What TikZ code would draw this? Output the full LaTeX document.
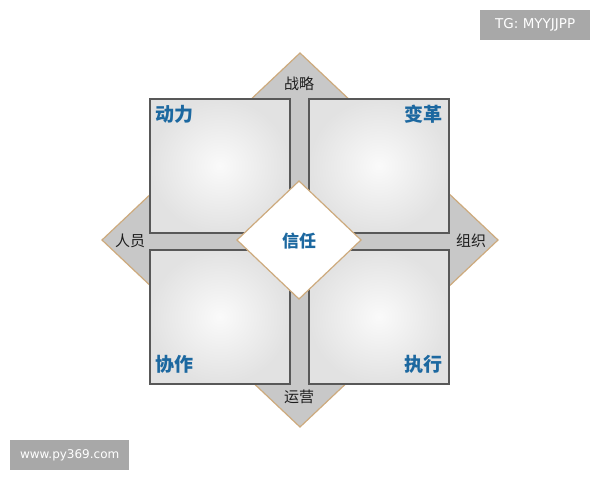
\documentclass[tikz,border=0pt]{standalone}
\usepackage{fontspec}
\setmainfont{DejaVu Sans}
\newfontfamily\cjk{Noto Sans CJK SC}
\definecolor{tanline}{RGB}{205,170,125}
\definecolor{diagray}{RGB}{200,200,200}
\definecolor{sqborder}{RGB}{88,88,88}
\definecolor{sqinner}{RGB}{250,250,250}
\definecolor{sqouter}{RGB}{226,226,226}
\definecolor{lblue}{RGB}{28,104,160}
\definecolor{ltext}{RGB}{30,30,30}
\definecolor{wmgray}{RGB}{168,168,168}
\tikzset{
  quad/.style={draw=sqborder, line width=1.6pt, inner color=sqinner, outer color=sqouter,
    minimum width=140pt, minimum height=134pt, inner sep=0pt, anchor=north west},
  quadlabel/.style={text=lblue, font=\cjk\bfseries\fontsize{19}{19}\selectfont, inner sep=0pt},
  sidelabel/.style={text=ltext, font=\cjk\fontsize{15}{15}\selectfont, inner sep=0pt},
  diaedge/.style={draw=tanline, line width=1.2pt, line join=miter},
  wm/.style={fill=wmgray, text=white, inner sep=0pt, anchor=north west}
}
\begin{document}
\begin{tikzpicture}[x=1pt,y=-1pt]
\useasboundingbox (0,0) rectangle (600,480);
\fill[white] (0,0) rectangle (600,480);
% outer diamond
\coordinate (dn) at (300,53);
\coordinate (de) at (498,240);
\coordinate (ds) at (300,427);
\coordinate (dw) at (102,240);
\fill[diagray] (dn) -- (de) -- (ds) -- (dw) -- cycle;
\draw[diaedge] (dn) -- (de) -- (ds) -- (dw) -- cycle;
% four quadrants
\node[quad] (q1) at (149,98) {};
\node[quad] (q2) at (308,98) {};
\node[quad] (q3) at (149,249) {};
\node[quad] (q4) at (308,249) {};
% quadrant labels
\node[quadlabel] (t1) at (174,114) {动力};
\node[quadlabel] (t2) at (423,114) {变革};
\node[quadlabel] (t3) at (174,364) {协作};
\node[quadlabel] (t4) at (423,364) {执行};
% side labels
\node[sidelabel] (s1) at (299,84) {战略};
\node[sidelabel] (s2) at (299,397) {运营};
\node[sidelabel] (s3) at (130,241) {人员};
\node[sidelabel] (s4) at (471,241) {组织};
% center diamond
\coordinate (cn) at (299,181);
\coordinate (ce) at (361,240);
\coordinate (cs) at (299,299);
\coordinate (cw) at (237,240);
\fill[white] (cn) -- (ce) -- (cs) -- (cw) -- cycle;
\draw[diaedge] (cn) -- (ce) -- (cs) -- (cw) -- cycle;
\node[quadlabel, font=\cjk\bfseries\fontsize{17}{17}\selectfont] (trust) at (299,241) {信任};
% watermarks
\node[wm, minimum width=110pt, minimum height=30pt, font=\fontsize{13.5}{13.5}\selectfont] (w1) at (480,10) {TG: MYYJJPP};
\node[wm, minimum width=119pt, minimum height=30pt, font=\fontsize{12}{12}\selectfont] (w2) at (10,440) {www.py369.com};
\end{tikzpicture}
\end{document}
